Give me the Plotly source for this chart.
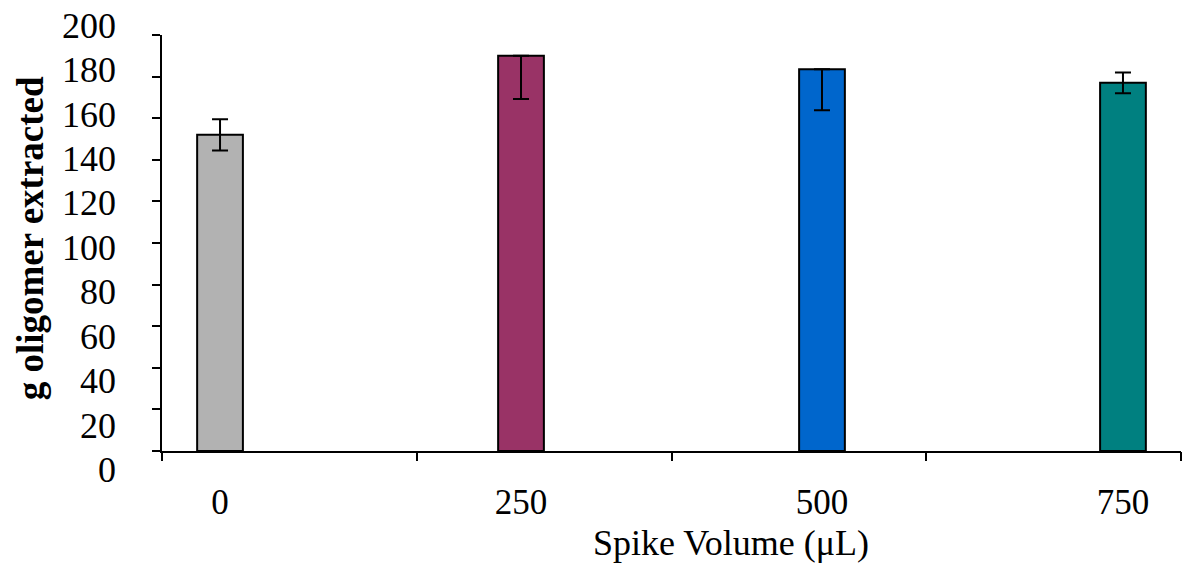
import plotly.graph_objects as go

# ---- data ----
spike_volumes = [0, 250, 500, 750]
tick_labels = ["0", "250", "500", "750"]
oligomer = [152, 190, 183.5, 177]
err_plus = [7.5, 0, 0, 5]
err_minus = [7.5, 20.8, 19.7, 5]
bar_colors = ["#B2B2B2", "#993366", "#0066CC", "#008080"]
y_ticks = [0, 20, 40, 60, 80, 100, 120, 140, 160, 180, 200]

FONT = "Liberation Serif, Times New Roman, serif"
Y_MAX = 200

fig = go.Figure()
fig.add_trace(go.Bar(
    x=spike_volumes,
    y=oligomer,
    width=38,
    marker=dict(color=bar_colors, line=dict(color="black", width=2)),
    error_y=dict(type="data", symmetric=False, array=err_plus, arrayminus=err_minus,
                 color="black", thickness=2, width=8),
    showlegend=False,
))
# invisible trace on secondary x-axis to carry boundary tick marks
fig.add_trace(go.Scatter(x=[0, 4], y=[None, None], xaxis="x2", showlegend=False,
                         hoverinfo="skip", mode="markers"))

annotations = []
# y tick labels (spread slightly wider than the ticks, as in the original)
for v in y_ticks:
    annotations.append(dict(
        x=0, xref="paper", xanchor="right", xshift=-44,
        y=(-9.18 + 1.0683 * v) / Y_MAX, yref="paper", yanchor="middle",
        text=str(v), showarrow=False,
        font=dict(family=FONT, size=36, color="black"),
    ))
annotations.append(dict(
    x=-0.1296, xref="paper", xanchor="center",
    y=0.511, yref="paper", yanchor="middle",
    text="<b>g oligomer extracted</b>", textangle=-90, showarrow=False,
    font=dict(family=FONT, size=37, color="black"),
))
annotations.append(dict(
    x=0.5579, xref="paper", xanchor="center",
    y=-0.222, yref="paper", yanchor="middle",
    text="Spike Volume (μL)", showarrow=False,
    font=dict(family=FONT, size=36, color="black"),
))

fig.update_layout(
    width=1182, height=571,
    margin=dict(l=162, r=1, t=35, b=120),
    paper_bgcolor="white", plot_bgcolor="white",
    xaxis=dict(
        range=[-48.2, 798.2],
        tickvals=spike_volumes, ticktext=tick_labels,
        ticks="outside", ticklen=19, tickcolor="rgba(0,0,0,0)",
        showline=True, linecolor="black", linewidth=2,
        showgrid=False, zeroline=False,
        tickfont=dict(family=FONT, size=35, color="black"),
    ),
    xaxis2=dict(
        overlaying="x", side="bottom", range=[0, 4],
        tickvals=[0, 1, 2, 3, 4], ticks="outside", ticklen=9, tickwidth=2,
        tickcolor="black", showticklabels=False, showgrid=False, zeroline=False,
        showline=False,
    ),
    yaxis=dict(
        range=[0, Y_MAX], tickvals=y_ticks, showticklabels=False,
        ticks="outside", ticklen=8, tickwidth=2, tickcolor="black",
        showline=True, linecolor="black", linewidth=2,
        showgrid=False, zeroline=False,
    ),
    annotations=annotations,
)

fig.write_html("out.html")
